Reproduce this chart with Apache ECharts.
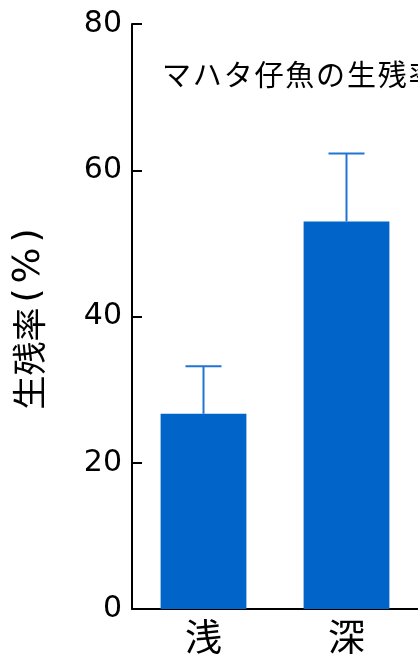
<!DOCTYPE html>
<html><head><meta charset="utf-8">
<script src="https://cdn.jsdelivr.net/npm/echarts@6/dist/echarts.min.js"></script>
<style>html,body{margin:0;padding:0;background:#fff;overflow:hidden}#c{width:418px;height:658px}</style>
</head><body><div id="c"></div>
<script>
const categories = ['浅', '深'];
const survival = [26.7, 53.0];
const errorUpper = [33.2, 62.3];
const yTicks = [0, 20, 40, 60, 80];
const titleText = 'マハタ仔魚の生残率';
const yNameMain = '生残率';
const yNameUnit = ['(', '%', ')'];

const CJK = "'Noto Sans CJK JP', sans-serif";
const chart = echarts.init(document.getElementById('c'));
chart.setOption({
  animation: false,
  title: {
    text: titleText.split('').join('\u200A'),
    left: 157, top: 55,
    textStyle: {fontSize: 29, fontWeight: 'normal', color: '#000', fontFamily: CJK}
  },
  grid: {left: 132, right: 0, top: 24, bottom: 49},
  xAxis: {
    type: 'category', data: categories,
    axisLine: {lineStyle: {color: '#000', width: 2}},
    axisTick: {show: false},
    axisLabel: {fontSize: 37, color: '#000', margin: 9, fontFamily: CJK}
  },
  yAxis: {
    type: 'value', min: yTicks[0], max: yTicks[yTicks.length - 1], interval: 20,
    name: '{a|' + yNameMain + '}{p|' + yNameUnit[0] + '}{q|' + yNameUnit[1] + '}{p|' + yNameUnit[2] + '}',
    nameLocation: 'middle', nameGap: 84, nameRotate: 90,
    nameTextStyle: {
      color: '#000',
      rich: {
        a: {fontSize: 34, color: '#000', fontFamily: CJK},
        p: {fontSize: 36, color: '#000', fontFamily: "'DejaVu Sans', sans-serif", padding: [0, 5]},
        q: {fontSize: 38, color: '#000', fontFamily: "'DejaVu Sans', sans-serif"}
      }
    },
    axisLine: {show: true, lineStyle: {color: '#000', width: 2}},
    axisTick: {show: true, inside: true, length: 10, lineStyle: {color: '#000', width: 2}},
    axisLabel: {fontSize: 30, color: '#000', margin: 10, fontFamily: "'DejaVu Sans', sans-serif"},
    splitLine: {show: false}
  },
  series: [
    {type: 'bar', data: survival, barWidth: '60%', itemStyle: {color: '#0064c8'}, z: 2},
    {
      type: 'custom', z: 3,
      data: categories.map((c, i) => [i, survival[i], errorUpper[i]]),
      renderItem: function (params, api) {
        const i = api.value(0);
        const p0 = api.coord([i, api.value(1)]);
        const p1 = api.coord([i, api.value(2)]);
        const hw = 18;
        const st = {stroke: '#2074d4', lineWidth: 2};
        return {type: 'group', children: [
          {type: 'line', shape: {x1: p0[0], y1: p0[1], x2: p1[0], y2: p1[1]}, style: st},
          {type: 'line', shape: {x1: p1[0] - hw, y1: p1[1], x2: p1[0] + hw, y2: p1[1]}, style: st}
        ]};
      }
    }
  ]
});
</script></body></html>
